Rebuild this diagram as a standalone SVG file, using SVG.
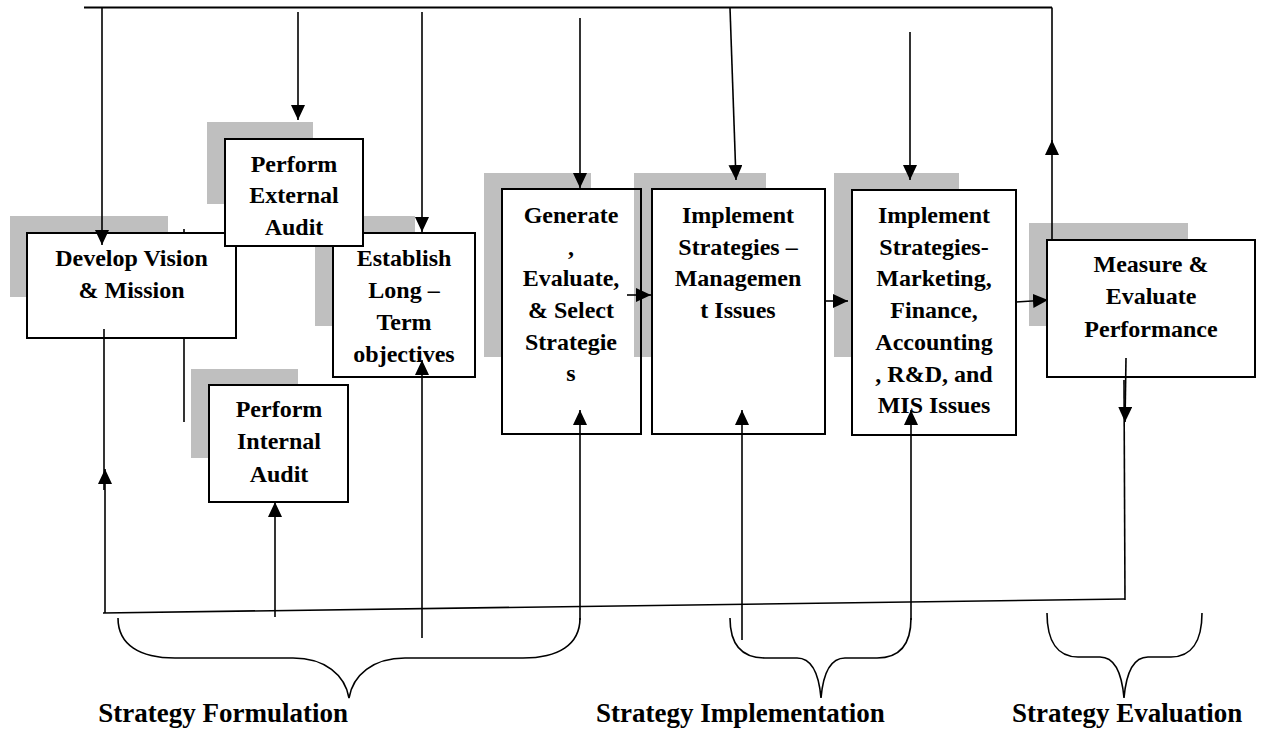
<svg xmlns="http://www.w3.org/2000/svg" width="1271" height="744" viewBox="0 0 1271 744">
<style>
.shadow{fill:#000;fill-opacity:0.25;stroke:none}
.box{fill:#fff;stroke:#000;stroke-width:2}
.t{font-family:"Liberation Serif","Times New Roman",serif;font-weight:bold;font-size:24px;fill:#000;text-anchor:middle}
.lbl{font-family:"Liberation Serif","Times New Roman",serif;font-weight:bold;font-size:27px;fill:#000}
.c{fill:none;stroke:#000;stroke-width:1.6}
.top{fill:none;stroke:#000;stroke-width:2.2}
.a{marker-end:url(#ah)}
</style>
<defs>
<marker id="ah" viewBox="0 0 10 10" refX="10" refY="5" markerWidth="15" markerHeight="14" markerUnits="userSpaceOnUse" orient="auto" preserveAspectRatio="none">
<path d="M0,0 L10,5 L0,10 z" fill="#000"/>
</marker>
</defs>

<g id="hidden-lines">
<line class="c" x1="184" y1="229" x2="184" y2="234"/>
<line class="c" x1="184" y1="338" x2="184" y2="422"/>
</g>

<g id="develop">
<rect class="shadow" x="10" y="216" width="158" height="81"/>
<rect class="box" x="27" y="233" width="209" height="105"/>
<text class="t" x="131.5" y="266">Develop Vision</text>
<text class="t" x="131.5" y="298">&amp; Mission</text>
</g>

<g id="establish">
<rect class="shadow" x="315" y="216" width="100" height="110"/>
<rect class="box" x="333" y="233" width="142" height="144"/>
<text class="t" x="404" y="266">Establish</text>
<text class="t" x="404" y="298">Long –</text>
<text class="t" x="404" y="330">Term</text>
<text class="t" x="404" y="362">objectives</text>
</g>

<g id="external">
<rect class="shadow" x="207" y="122" width="106" height="82"/>
<rect class="box" x="225" y="139" width="138" height="107"/>
<text class="t" x="294" y="172">Perform</text>
<text class="t" x="294" y="203">External</text>
<text class="t" x="294" y="235">Audit</text>
</g>

<g id="internal">
<rect class="shadow" x="191" y="369" width="107" height="89"/>
<rect class="box" x="209" y="385" width="139" height="117"/>
<text class="t" x="279" y="417">Perform</text>
<text class="t" x="279" y="449">Internal</text>
<text class="t" x="279" y="482">Audit</text>
</g>

<g id="generate">
<rect class="shadow" x="484" y="173" width="107" height="184"/>
<rect class="box" x="502" y="189" width="139" height="245"/>
<text class="t" x="571" y="223">Generate</text>
<text class="t" x="571" y="255">,</text>
<text class="t" x="571" y="286">Evaluate,</text>
<text class="t" x="571" y="318">&amp; Select</text>
<text class="t" x="571" y="350">Strategie</text>
<text class="t" x="571" y="381">s</text>
</g>

<g id="impl-mgmt">
<rect class="shadow" x="634" y="173" width="132" height="184"/>
<rect class="box" x="652" y="189" width="173" height="245"/>
<text class="t" x="738" y="223">Implement</text>
<text class="t" x="738" y="255">Strategies –</text>
<text class="t" x="738" y="286">Managemen</text>
<text class="t" x="738" y="318">t Issues</text>
</g>

<g id="impl-func">
<rect class="shadow" x="834" y="173" width="125" height="184"/>
<rect class="box" x="852" y="190" width="164" height="245"/>
<text class="t" x="934" y="223">Implement</text>
<text class="t" x="934" y="255">Strategies-</text>
<text class="t" x="934" y="286">Marketing,</text>
<text class="t" x="934" y="318">Finance,</text>
<text class="t" x="934" y="350">Accounting</text>
<text class="t" x="934" y="382">, R&amp;D, and</text>
<text class="t" x="934" y="413">MIS Issues</text>
</g>

<g id="measure">
<rect class="shadow" x="1029" y="223" width="159" height="103"/>
<rect class="box" x="1047" y="240" width="208" height="137"/>
<text class="t" x="1151" y="272">Measure &amp;</text>
<text class="t" x="1151" y="304">Evaluate</text>
<text class="t" x="1151" y="337">Performance</text>
</g>

<g id="connectors">
<path class="top" d="M84,7.5 H1052"/>
<line class="c" x1="1052" y1="150" x2="1052" y2="7.5"/>
<line class="c a" x1="1052" y1="240" x2="1052" y2="140"/>
<line class="c a" x1="102" y1="8" x2="102" y2="245"/>
<line class="c a" x1="298" y1="12" x2="298" y2="120"/>
<line class="c a" x1="422" y1="12" x2="422" y2="232"/>
<line class="c a" x1="580" y1="18" x2="580" y2="188"/>
<line class="c a" x1="730" y1="8" x2="736" y2="180"/>
<line class="c a" x1="910" y1="32" x2="910" y2="180"/>

<line class="c a" x1="627" y1="295" x2="651" y2="295"/>
<line class="c a" x1="825" y1="301" x2="848" y2="301"/>
<line class="c a" x1="1015" y1="302" x2="1048" y2="300"/>

<line class="c" x1="104" y1="329" x2="104" y2="490"/>
<line class="c a" x1="105" y1="613" x2="105" y2="469"/>
<line class="c" x1="103" y1="613" x2="1125" y2="599"/>
<line class="c a" x1="1126" y1="358" x2="1125" y2="422"/>
<line class="c" x1="1124" y1="380" x2="1125" y2="600"/>

<line class="c a" x1="275" y1="617" x2="275" y2="502"/>
<line class="c a" x1="422" y1="638" x2="422" y2="360"/>
<line class="c a" x1="580" y1="620" x2="580" y2="410"/>
<line class="c a" x1="742" y1="640" x2="742" y2="410"/>
<line class="c a" x1="911" y1="620" x2="911" y2="410"/>

<path class="c" d="M118,618 C118,645 140,658 175,658 L293,658 C325,658 345,675 349,698 C353,675 373,658 405,658 L523,658 C558,658 580,645 580,618"/>
<path class="c" d="M730,618 C730,645 742,658 765,658 L797,658 C812,658 819,675 821,698 C823,675 830,658 845,658 L877,658 C900,658 911,645 911,618"/>
<path class="c" d="M1047,613 C1047,642 1058,657 1078,657 L1100,657 C1115,657 1122,675 1124,698 C1126,675 1133,657 1148,657 L1171,657 C1191,657 1202,642 1202,613"/>
</g>

<g id="labels">
<text class="lbl" x="348" y="722" text-anchor="end">Strategy Formulation</text>
<text class="lbl" x="596" y="722">Strategy Implementation</text>
<text class="lbl" x="1012" y="722">Strategy Evaluation</text>
</g>
</svg>
